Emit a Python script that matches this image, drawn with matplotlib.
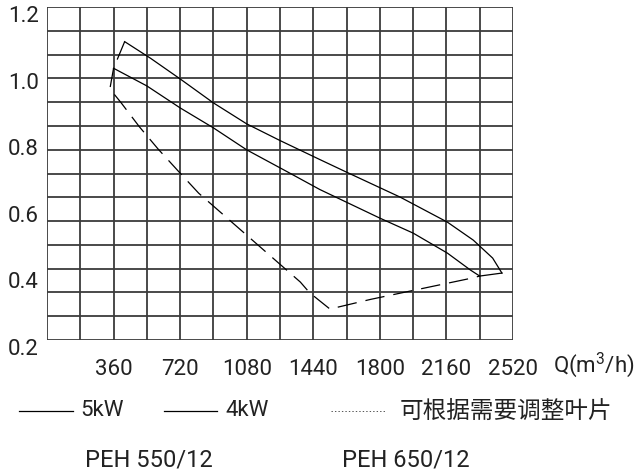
import numpy as np
import matplotlib
matplotlib.use("Agg")
import matplotlib.pyplot as plt
import matplotlib.transforms as mtransforms
from matplotlib.lines import Line2D

# 5kW curve (Q m3/h, head)
q5 = [420, 560, 720, 900, 1080, 1260, 1475, 1620, 1910, 2165, 2305, 2410, 2460]
h5 = [1.096, 1.046, 0.984, 0.912, 0.849, 0.799, 0.742, 0.704, 0.629, 0.554, 0.500, 0.446, 0.401]

# 4kW curve
q4 = [360, 540, 720, 900, 1080, 1300, 1475, 1800, 1980, 2165, 2290, 2340]
h4 = [1.016, 0.963, 0.897, 0.837, 0.771, 0.705, 0.652, 0.566, 0.521, 0.461, 0.410, 0.392]

# adjustable-blade envelope (dashed)
qenv = [420, 360, 340, 400, 500, 600, 720, 820, 1370, 1420, 1530, 1750, 2290, 2340]
henv = [1.096, 1.016, 0.954, 0.913, 0.840, 0.774, 0.701, 0.641, 0.374, 0.342, 0.293, 0.322, 0.385, 0.392]

xticks = [360, 720, 1080, 1440, 1800, 2160, 2520]
yticks = [0.2, 0.4, 0.6, 0.8, 1.0, 1.2]

FONT = ["Roboto", "DejaVu Sans"]
CJK = ["Noto Sans CJK SC", "DejaVu Sans"]
TXT = "#222222"
GRID = "#3c3c3c"
FS = 16

plt.rcParams["lines.scale_dashes"] = False
plt.rcParams["font.family"] = FONT
plt.rcParams["mathtext.fontset"] = "custom"
plt.rcParams["mathtext.rm"] = "Roboto"
plt.rcParams["mathtext.it"] = "Roboto"

fig = plt.figure(figsize=(6.37, 4.74), dpi=100)
W, H = 637.0, 474.0
ax = fig.add_axes([47 / W, 1 - 340 / H, (513 - 47) / W, (340 - 7) / H])

ax.set_xlim(0, 2520)
ax.set_ylim(0.2, 1.2)

# grid: 14 columns x 14 rows
for gx in np.arange(0, 2521, 180):
    ax.axvline(gx, color=GRID, lw=1.3, zorder=1)
for gy in np.linspace(0.2, 1.2, 15):
    ax.axhline(gy, color=GRID, lw=1.3, zorder=1)
for s in ax.spines.values():
    s.set_visible(False)

ax.plot(q5, h5, color="black", lw=0.9, zorder=3)
ax.plot(q4, h4, color="black", lw=0.9, zorder=3)
ax.plot([q4[-1], q5[-1]], [h4[-1], h5[-1]], color="black", lw=0.9, zorder=3)
ax.plot(qenv, henv, color="black", lw=0.9, linestyle=(0, (14, 6.5)), zorder=3)

ax.set_xticks(xticks)
ax.set_xticklabels([str(v) for v in xticks])
ax.set_yticks(yticks)
ax.set_yticklabels(["%.1f" % v for v in yticks])
ax.tick_params(axis="both", length=0, labelsize=FS, colors=TXT)
ax.tick_params(axis="x", pad=14)
ax.tick_params(axis="y", pad=6)
off = mtransforms.ScaledTranslation(0, -7 / 100.0, fig.dpi_scale_trans)
for lab in ax.get_yticklabels():
    lab.set_transform(lab.get_transform() + off)

fig.text(553 / W, 1 - 365 / H, r"Q(m$^3$/h)", fontsize=FS, color=TXT,
         ha="left", va="center")

# legend row
ly = 1 - 411 / H
fig.add_artist(Line2D([19 / W, 73 / W], [ly, ly], color="black", lw=0.9))
fig.text(80 / W, ly, "5kW", fontsize=FS, color=TXT, ha="left", va="center")
fig.add_artist(Line2D([164 / W, 217 / W], [ly, ly], color="black", lw=0.9))
fig.text(225 / W, ly, "4kW", fontsize=FS, color=TXT, ha="left", va="center")
fig.add_artist(Line2D([331 / W, 386 / W], [ly, ly], color="#555555", lw=0.7,
                      linestyle=(0, (1, 1.5))))
fig.text(400 / W, ly, "可根据需要调整叶片", fontsize=17, color=TXT,
         ha="left", va="center", family=CJK)

py = 1 - 460 / H
fig.text(149 / W, py, "PEH 550/12", fontsize=17, color=TXT, ha="center", va="center")
fig.text(406 / W, py, "PEH 650/12", fontsize=17, color=TXT, ha="center", va="center")

fig.savefig("out.png", dpi=100)
